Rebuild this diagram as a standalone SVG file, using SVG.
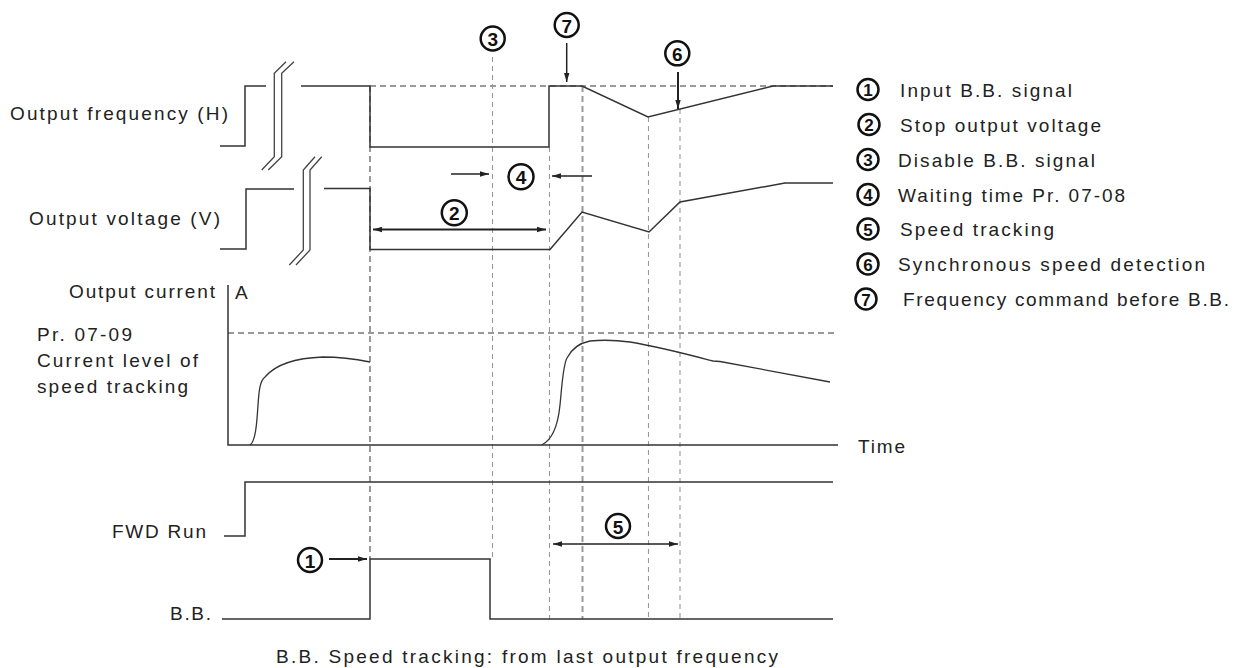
<svg xmlns="http://www.w3.org/2000/svg" width="1245" height="668" viewBox="0 0 1245 668">
<style>
.bg{fill:#fff}
.sig{fill:none;stroke:#333;stroke-width:1.5;stroke-linejoin:miter}
.brk{fill:none;stroke:#444;stroke-width:1.3}
.dt{fill:none;stroke:#999;stroke-width:1.1;stroke-dasharray:5 4}
.dk{fill:none;stroke:#999;stroke-width:2;stroke-dasharray:6 4}
.arr{fill:none;stroke:#222;stroke-width:1.5}
.arrb{fill:none;stroke:#222;stroke-width:2}
.lbl{font-family:"Liberation Sans",Arial,sans-serif;font-size:19px;fill:#222}
.cn{fill:#fff;stroke:#111;stroke-width:2.5}
.cd{font-family:"Liberation Sans",Arial,sans-serif;font-weight:bold;fill:#111;text-anchor:middle;dominant-baseline:central}
</style>
<defs>
<marker id="ah" viewBox="0 0 10 6" refX="10" refY="3" markerWidth="9" markerHeight="6" markerUnits="userSpaceOnUse" orient="auto-start-reverse">
<path d="M0,0 L10,3 L0,6 z" fill="#222"/>
</marker>
</defs>
<rect class="bg" x="0" y="0" width="1245" height="668"/>

<g id="guides">
<path class="dk" d="M370,86 L833,86"/>
<path class="dk" d="M228,333 L835,333"/>
<path class="dk" d="M370,86 L370,559"/>
<path class="dt" d="M492.5,57 L492.5,559"/>
<path class="dt" d="M549.5,147 L549.5,619"/>
<path class="dk" d="M582.5,86 L582.5,619"/>
<path class="dt" d="M648.5,117 L648.5,619"/>
<path class="dt" d="M680,109 L680,619"/>
</g>

<g id="output-frequency">
<text class="lbl" x="10" y="120" textLength="218" lengthAdjust="spacing">Output frequency (H)</text>
<path class="sig" d="M220,146 L245,146 L245,86 L266,86"/>
<path class="brk" d="M261.7,170 L274.3,156.7 L274.3,73.3 L286,61.7"/>
<path class="brk" d="M268.3,170 L281.7,156.7 L281.7,73.3 L294,61.7"/>
<path class="sig" d="M301,86 L370,86 L370,147 L549,147 L549,86 L582,86 L648,117 L773,86 L833,86"/>
</g>

<g id="output-voltage">
<text class="lbl" x="29" y="225" textLength="191" lengthAdjust="spacing">Output voltage (V)</text>
<path class="sig" d="M220,249 L246,249 L246,189 L294,189"/>
<path class="brk" d="M289.3,265 L303.3,250 L303.3,170 L315,156.7"/>
<path class="brk" d="M296,265 L310,250 L310,170 L321.7,156.7"/>
<path class="sig" d="M324,188.5 L370,188.5 L370,249.5 L550,249.5 L582,212 L649,232 L680,202 L785,183 L833,183"/>
</g>

<g id="output-current">
<text class="lbl" x="69" y="298" textLength="146" lengthAdjust="spacing">Output current</text>
<text class="lbl" x="235" y="299">A</text>
<text class="lbl" x="37" y="341" textLength="95" lengthAdjust="spacing">Pr. 07-09</text>
<text class="lbl" x="37" y="367" textLength="161" lengthAdjust="spacing">Current level of</text>
<text class="lbl" x="37" y="393" textLength="151" lengthAdjust="spacing">speed tracking</text>
<path class="sig" d="M228,285 L228,445 L838,445"/>
<path class="sig" style="stroke-width:1.3" d="M250,445 C256,441 257,420 258,405 C259,390 260,381 265,377 C275,365 295,358 323,357 C345,357 360,360 370,362"/>
<path class="sig" style="stroke-width:1.3" d="M541.7,445 C552,440 558,425 560,405 C562,385 563,365 567,358 C572,348 580,343 590,341 C600,340 615,340 630,342 C660,347 690,355 713,361 L720,361.5 L830,382"/>
<text class="lbl" x="858" y="453" textLength="47" lengthAdjust="spacing">Time</text>
</g>

<g id="fwd-run">
<text class="lbl" x="112" y="538" textLength="94" lengthAdjust="spacing">FWD Run</text>
<path class="sig" d="M224,536 L245,536 L245,482 L833,482"/>
</g>

<g id="bb">
<text class="lbl" x="170" y="620" textLength="41" lengthAdjust="spacing">B.B.</text>
<path class="sig" d="M222,619 L370,619 L370,559 L490,559 L490,619 L833,619"/>
</g>

<g id="connectors">
<path class="arr" d="M566.7,43 L566.7,82" marker-end="url(#ah)"/>
<path class="arrb" d="M678,72 L678,109" marker-end="url(#ah)"/>
<path class="arr" d="M451,174 L489,174" marker-end="url(#ah)"/>
<path class="arr" d="M592,176 L552,176" marker-end="url(#ah)"/>
<path class="arrb" d="M373,229.5 L546,229.5" marker-start="url(#ah)" marker-end="url(#ah)"/>
<path class="arrb" d="M329,559 L367,559" marker-end="url(#ah)"/>
<path class="arr" d="M553,544 L678,544" marker-start="url(#ah)" marker-end="url(#ah)"/>
</g>

<g id="markers">
<g id="m3"><circle class="cn" cx="492.7" cy="38.5" r="12"/><text class="cd" x="492.7" y="39.5" font-size="19">3</text></g>
<g id="m7"><circle class="cn" cx="566.7" cy="25" r="12"/><text class="cd" x="566.7" y="26" font-size="19">7</text></g>
<g id="m6"><circle class="cn" cx="677.3" cy="53.3" r="12"/><text class="cd" x="677.3" y="54.3" font-size="19">6</text></g>
<g id="m4"><circle class="cn" cx="521" cy="176.7" r="12.5"/><text class="cd" x="521" y="177.7" font-size="19">4</text></g>
<g id="m2"><circle class="cn" cx="454.3" cy="212.7" r="12.5"/><text class="cd" x="454.3" y="213.7" font-size="19">2</text></g>
<g id="m1"><circle class="cn" cx="310" cy="560" r="12"/><text class="cd" x="310" y="561" font-size="19">1</text></g>
<g id="m5"><circle class="cn" cx="618" cy="526" r="12"/><text class="cd" x="618" y="527" font-size="19">5</text></g>
</g>

<g id="legend">
<g id="l1"><circle class="cn" cx="868" cy="89.5" r="10.5"/><text class="cd" x="868" y="90.5" font-size="17">1</text><text class="lbl" x="900" y="96.5" textLength="172" lengthAdjust="spacing">Input B.B. signal</text></g>
<g id="l2"><circle class="cn" cx="869" cy="124.5" r="10.5"/><text class="cd" x="869" y="125.5" font-size="17">2</text><text class="lbl" x="900" y="131.5" textLength="201" lengthAdjust="spacing">Stop output voltage</text></g>
<g id="l3"><circle class="cn" cx="868" cy="159.5" r="10.5"/><text class="cd" x="868" y="160.5" font-size="17">3</text><text class="lbl" x="898" y="166.5" textLength="197" lengthAdjust="spacing">Disable B.B. signal</text></g>
<g id="l4"><circle class="cn" cx="868" cy="194.5" r="10.5"/><text class="cd" x="868" y="195.5" font-size="17">4</text><text class="lbl" x="898" y="201.5" textLength="227" lengthAdjust="spacing">Waiting time Pr. 07-08</text></g>
<g id="l5"><circle class="cn" cx="868" cy="229" r="10.5"/><text class="cd" x="868" y="230" font-size="17">5</text><text class="lbl" x="900" y="236" textLength="154" lengthAdjust="spacing">Speed tracking</text></g>
<g id="l6"><circle class="cn" cx="868" cy="264" r="10.5"/><text class="cd" x="868" y="265" font-size="17">6</text><text class="lbl" x="898" y="271" textLength="307" lengthAdjust="spacing">Synchronous speed detection</text></g>
<g id="l7"><circle class="cn" cx="866" cy="299" r="10.5"/><text class="cd" x="866" y="300" font-size="17">7</text><text class="lbl" x="903" y="306" textLength="326" lengthAdjust="spacing">Frequency command before B.B.</text></g>
</g>

<g id="caption">
<text class="lbl" x="276" y="663" textLength="502" lengthAdjust="spacing">B.B. Speed tracking: from last output frequency</text>
</g>
</svg>
